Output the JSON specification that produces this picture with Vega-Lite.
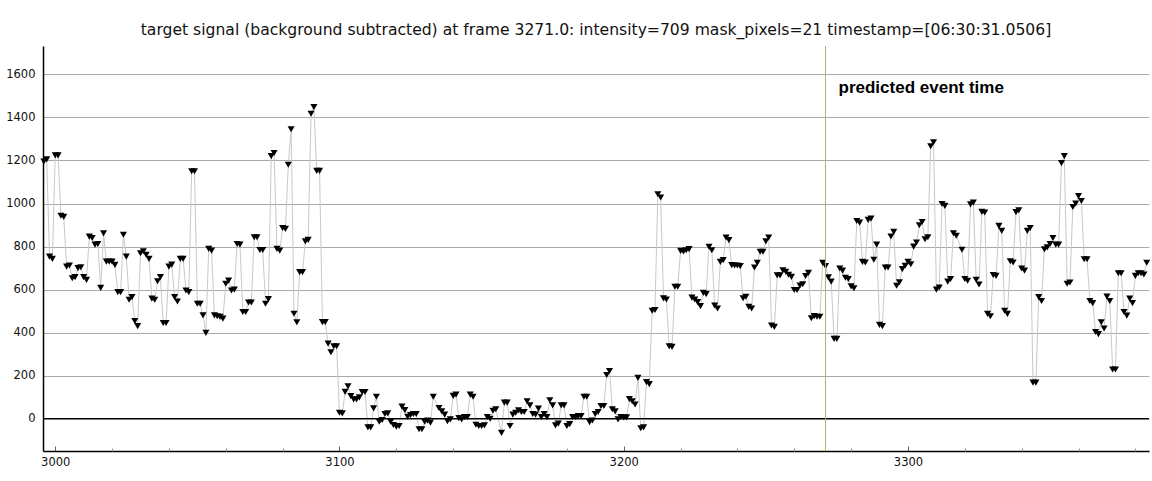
{
  "$schema": "https://vega.github.io/schema/vega-lite/v6.json",
  "width": 1106,
  "height": 405,
  "autosize": "none",
  "padding": {"left": 43, "top": 46, "right": 3, "bottom": 30},
  "background": "white",
  "title": {
    "text": "target signal (background subtracted) at frame 3271.0: intensity=709 mask_pixels=21 timestamp=[06:30:31.0506]",
    "font": "DejaVu Sans",
    "fontSize": 15.6,
    "fontWeight": "normal",
    "color": "#111",
    "anchor": "middle",
    "offset": 7
  },
  "data": {
    "values": [
      {"frame": 2996, "intensity": 1195}, {"frame": 2997, "intensity": 1205}, {"frame": 2998, "intensity": 753}, {"frame": 2999, "intensity": 743},
      {"frame": 3000, "intensity": 1224}, {"frame": 3001, "intensity": 1224}, {"frame": 3002, "intensity": 943}, {"frame": 3003, "intensity": 938},
      {"frame": 3004, "intensity": 707}, {"frame": 3005, "intensity": 712}, {"frame": 3006, "intensity": 653}, {"frame": 3007, "intensity": 658},
      {"frame": 3008, "intensity": 700}, {"frame": 3009, "intensity": 704}, {"frame": 3010, "intensity": 658}, {"frame": 3011, "intensity": 645},
      {"frame": 3012, "intensity": 846}, {"frame": 3013, "intensity": 840}, {"frame": 3014, "intensity": 809}, {"frame": 3015, "intensity": 812},
      {"frame": 3016, "intensity": 608}, {"frame": 3017, "intensity": 861}, {"frame": 3018, "intensity": 730}, {"frame": 3019, "intensity": 730},
      {"frame": 3020, "intensity": 730}, {"frame": 3021, "intensity": 715}, {"frame": 3022, "intensity": 588}, {"frame": 3023, "intensity": 588},
      {"frame": 3024, "intensity": 855}, {"frame": 3025, "intensity": 753}, {"frame": 3026, "intensity": 553}, {"frame": 3027, "intensity": 565},
      {"frame": 3028, "intensity": 454}, {"frame": 3029, "intensity": 430}, {"frame": 3030, "intensity": 769}, {"frame": 3031, "intensity": 778},
      {"frame": 3032, "intensity": 762}, {"frame": 3033, "intensity": 743}, {"frame": 3034, "intensity": 558}, {"frame": 3035, "intensity": 553},
      {"frame": 3036, "intensity": 639}, {"frame": 3037, "intensity": 658}, {"frame": 3038, "intensity": 445}, {"frame": 3039, "intensity": 445},
      {"frame": 3040, "intensity": 707}, {"frame": 3041, "intensity": 716}, {"frame": 3042, "intensity": 565}, {"frame": 3043, "intensity": 545},
      {"frame": 3044, "intensity": 743}, {"frame": 3045, "intensity": 743}, {"frame": 3046, "intensity": 596}, {"frame": 3047, "intensity": 588},
      {"frame": 3048, "intensity": 1150}, {"frame": 3049, "intensity": 1150}, {"frame": 3050, "intensity": 534}, {"frame": 3051, "intensity": 534},
      {"frame": 3052, "intensity": 480}, {"frame": 3053, "intensity": 399}, {"frame": 3054, "intensity": 789}, {"frame": 3055, "intensity": 781},
      {"frame": 3056, "intensity": 480}, {"frame": 3057, "intensity": 476}, {"frame": 3058, "intensity": 473}, {"frame": 3059, "intensity": 465},
      {"frame": 3060, "intensity": 627}, {"frame": 3061, "intensity": 642}, {"frame": 3062, "intensity": 596}, {"frame": 3063, "intensity": 600},
      {"frame": 3064, "intensity": 812}, {"frame": 3065, "intensity": 809}, {"frame": 3066, "intensity": 496}, {"frame": 3067, "intensity": 496},
      {"frame": 3068, "intensity": 540}, {"frame": 3069, "intensity": 540}, {"frame": 3070, "intensity": 843}, {"frame": 3071, "intensity": 843},
      {"frame": 3072, "intensity": 784}, {"frame": 3073, "intensity": 784}, {"frame": 3074, "intensity": 534}, {"frame": 3075, "intensity": 556},
      {"frame": 3076, "intensity": 1220}, {"frame": 3077, "intensity": 1235}, {"frame": 3078, "intensity": 789}, {"frame": 3079, "intensity": 781},
      {"frame": 3080, "intensity": 886}, {"frame": 3081, "intensity": 882}, {"frame": 3082, "intensity": 1180}, {"frame": 3083, "intensity": 1345},
      {"frame": 3084, "intensity": 488}, {"frame": 3085, "intensity": 448}, {"frame": 3086, "intensity": 681}, {"frame": 3087, "intensity": 681},
      {"frame": 3088, "intensity": 824}, {"frame": 3089, "intensity": 831}, {"frame": 3090, "intensity": 1417}, {"frame": 3091, "intensity": 1448},
      {"frame": 3092, "intensity": 1152}, {"frame": 3093, "intensity": 1152}, {"frame": 3094, "intensity": 449}, {"frame": 3095, "intensity": 449},
      {"frame": 3096, "intensity": 349}, {"frame": 3097, "intensity": 309}, {"frame": 3098, "intensity": 337}, {"frame": 3099, "intensity": 337},
      {"frame": 3100, "intensity": 28}, {"frame": 3101, "intensity": 25}, {"frame": 3102, "intensity": 125}, {"frame": 3103, "intensity": 151},
      {"frame": 3104, "intensity": 105}, {"frame": 3105, "intensity": 90}, {"frame": 3106, "intensity": 90}, {"frame": 3107, "intensity": 99},
      {"frame": 3108, "intensity": 124}, {"frame": 3109, "intensity": 124}, {"frame": 3110, "intensity": -40}, {"frame": 3111, "intensity": -40},
      {"frame": 3112, "intensity": 48}, {"frame": 3113, "intensity": 102}, {"frame": 3114, "intensity": -14}, {"frame": 3115, "intensity": -6},
      {"frame": 3116, "intensity": 22}, {"frame": 3117, "intensity": 25}, {"frame": 3118, "intensity": -14}, {"frame": 3119, "intensity": -29},
      {"frame": 3120, "intensity": -37}, {"frame": 3121, "intensity": -34}, {"frame": 3122, "intensity": 56}, {"frame": 3123, "intensity": 40},
      {"frame": 3124, "intensity": 9}, {"frame": 3125, "intensity": 17}, {"frame": 3126, "intensity": 22}, {"frame": 3127, "intensity": 22},
      {"frame": 3128, "intensity": -49}, {"frame": 3129, "intensity": -49}, {"frame": 3130, "intensity": -14}, {"frame": 3131, "intensity": -9},
      {"frame": 3132, "intensity": -18}, {"frame": 3133, "intensity": 102}, {"frame": 3135, "intensity": 50}, {"frame": 3136, "intensity": 34},
      {"frame": 3137, "intensity": 19}, {"frame": 3138, "intensity": -12}, {"frame": 3139, "intensity": -3}, {"frame": 3140, "intensity": 106},
      {"frame": 3141, "intensity": 112}, {"frame": 3142, "intensity": 3}, {"frame": 3143, "intensity": -3}, {"frame": 3144, "intensity": 8},
      {"frame": 3145, "intensity": 8}, {"frame": 3146, "intensity": 112}, {"frame": 3147, "intensity": 102}, {"frame": 3148, "intensity": -28},
      {"frame": 3149, "intensity": -34}, {"frame": 3150, "intensity": -34}, {"frame": 3151, "intensity": -31}, {"frame": 3152, "intensity": 8},
      {"frame": 3153, "intensity": 0}, {"frame": 3154, "intensity": 37}, {"frame": 3155, "intensity": 44}, {"frame": 3157, "intensity": -66},
      {"frame": 3158, "intensity": 75}, {"frame": 3159, "intensity": 75}, {"frame": 3160, "intensity": -34}, {"frame": 3161, "intensity": 19},
      {"frame": 3162, "intensity": 28}, {"frame": 3163, "intensity": 39}, {"frame": 3164, "intensity": 31}, {"frame": 3165, "intensity": 31},
      {"frame": 3166, "intensity": 81}, {"frame": 3167, "intensity": 62}, {"frame": 3168, "intensity": 22}, {"frame": 3169, "intensity": 19},
      {"frame": 3170, "intensity": 47}, {"frame": 3171, "intensity": 8}, {"frame": 3172, "intensity": 22}, {"frame": 3173, "intensity": 8},
      {"frame": 3174, "intensity": 86}, {"frame": 3175, "intensity": 62}, {"frame": 3176, "intensity": -31}, {"frame": 3177, "intensity": -23},
      {"frame": 3178, "intensity": 62}, {"frame": 3179, "intensity": 62}, {"frame": 3180, "intensity": -34}, {"frame": 3181, "intensity": -25},
      {"frame": 3182, "intensity": 8}, {"frame": 3183, "intensity": 8}, {"frame": 3184, "intensity": 12}, {"frame": 3185, "intensity": 12},
      {"frame": 3186, "intensity": 102}, {"frame": 3187, "intensity": 102}, {"frame": 3188, "intensity": -16}, {"frame": 3189, "intensity": -8},
      {"frame": 3190, "intensity": 22}, {"frame": 3191, "intensity": 31}, {"frame": 3192, "intensity": 59}, {"frame": 3193, "intensity": 59},
      {"frame": 3194, "intensity": 203}, {"frame": 3195, "intensity": 222}, {"frame": 3196, "intensity": 44}, {"frame": 3197, "intensity": 34},
      {"frame": 3198, "intensity": -3}, {"frame": 3199, "intensity": 8}, {"frame": 3200, "intensity": 6}, {"frame": 3201, "intensity": 6},
      {"frame": 3202, "intensity": 91}, {"frame": 3203, "intensity": 81}, {"frame": 3204, "intensity": 66}, {"frame": 3205, "intensity": 190},
      {"frame": 3206, "intensity": -44}, {"frame": 3207, "intensity": -40}, {"frame": 3208, "intensity": 170}, {"frame": 3209, "intensity": 161},
      {"frame": 3210, "intensity": 502}, {"frame": 3211, "intensity": 505}, {"frame": 3212, "intensity": 1043}, {"frame": 3213, "intensity": 1028},
      {"frame": 3214, "intensity": 559}, {"frame": 3215, "intensity": 554}, {"frame": 3216, "intensity": 337}, {"frame": 3217, "intensity": 334},
      {"frame": 3218, "intensity": 613}, {"frame": 3219, "intensity": 613}, {"frame": 3220, "intensity": 780}, {"frame": 3221, "intensity": 777},
      {"frame": 3222, "intensity": 783}, {"frame": 3223, "intensity": 788}, {"frame": 3224, "intensity": 563}, {"frame": 3225, "intensity": 554},
      {"frame": 3226, "intensity": 542}, {"frame": 3227, "intensity": 523}, {"frame": 3228, "intensity": 585}, {"frame": 3229, "intensity": 579},
      {"frame": 3230, "intensity": 799}, {"frame": 3231, "intensity": 783}, {"frame": 3232, "intensity": 526}, {"frame": 3233, "intensity": 512},
      {"frame": 3234, "intensity": 729}, {"frame": 3235, "intensity": 737}, {"frame": 3236, "intensity": 842}, {"frame": 3237, "intensity": 830},
      {"frame": 3238, "intensity": 714}, {"frame": 3239, "intensity": 712}, {"frame": 3240, "intensity": 712}, {"frame": 3241, "intensity": 709},
      {"frame": 3242, "intensity": 560}, {"frame": 3243, "intensity": 567}, {"frame": 3244, "intensity": 520}, {"frame": 3245, "intensity": 512},
      {"frame": 3246, "intensity": 703}, {"frame": 3247, "intensity": 724}, {"frame": 3248, "intensity": 776}, {"frame": 3249, "intensity": 776},
      {"frame": 3250, "intensity": 824}, {"frame": 3251, "intensity": 842}, {"frame": 3252, "intensity": 433}, {"frame": 3253, "intensity": 427},
      {"frame": 3254, "intensity": 666}, {"frame": 3255, "intensity": 666}, {"frame": 3256, "intensity": 690}, {"frame": 3257, "intensity": 683},
      {"frame": 3258, "intensity": 669}, {"frame": 3259, "intensity": 659}, {"frame": 3260, "intensity": 598}, {"frame": 3261, "intensity": 598},
      {"frame": 3262, "intensity": 619}, {"frame": 3263, "intensity": 625}, {"frame": 3264, "intensity": 663}, {"frame": 3265, "intensity": 678},
      {"frame": 3266, "intensity": 467}, {"frame": 3267, "intensity": 477}, {"frame": 3268, "intensity": 474}, {"frame": 3269, "intensity": 474},
      {"frame": 3270, "intensity": 724}, {"frame": 3271, "intensity": 709}, {"frame": 3272, "intensity": 657}, {"frame": 3273, "intensity": 637},
      {"frame": 3274, "intensity": 371}, {"frame": 3275, "intensity": 371}, {"frame": 3276, "intensity": 698}, {"frame": 3277, "intensity": 688},
      {"frame": 3278, "intensity": 655}, {"frame": 3279, "intensity": 649}, {"frame": 3280, "intensity": 615}, {"frame": 3281, "intensity": 606},
      {"frame": 3282, "intensity": 919}, {"frame": 3283, "intensity": 911}, {"frame": 3284, "intensity": 729}, {"frame": 3285, "intensity": 726},
      {"frame": 3286, "intensity": 924}, {"frame": 3287, "intensity": 930}, {"frame": 3288, "intensity": 739}, {"frame": 3289, "intensity": 809},
      {"frame": 3290, "intensity": 436}, {"frame": 3291, "intensity": 430}, {"frame": 3292, "intensity": 703}, {"frame": 3293, "intensity": 703},
      {"frame": 3294, "intensity": 847}, {"frame": 3295, "intensity": 868}, {"frame": 3296, "intensity": 618}, {"frame": 3297, "intensity": 634},
      {"frame": 3298, "intensity": 695}, {"frame": 3299, "intensity": 711}, {"frame": 3300, "intensity": 729}, {"frame": 3301, "intensity": 718},
      {"frame": 3302, "intensity": 800}, {"frame": 3303, "intensity": 819}, {"frame": 3304, "intensity": 899}, {"frame": 3305, "intensity": 914},
      {"frame": 3306, "intensity": 834}, {"frame": 3307, "intensity": 843}, {"frame": 3308, "intensity": 1266}, {"frame": 3309, "intensity": 1285},
      {"frame": 3310, "intensity": 600}, {"frame": 3311, "intensity": 610}, {"frame": 3312, "intensity": 998}, {"frame": 3313, "intensity": 989},
      {"frame": 3314, "intensity": 637}, {"frame": 3315, "intensity": 649}, {"frame": 3316, "intensity": 862}, {"frame": 3317, "intensity": 850},
      {"frame": 3319, "intensity": 785}, {"frame": 3320, "intensity": 649}, {"frame": 3321, "intensity": 641}, {"frame": 3322, "intensity": 996},
      {"frame": 3323, "intensity": 1004}, {"frame": 3324, "intensity": 646}, {"frame": 3325, "intensity": 624}, {"frame": 3326, "intensity": 961},
      {"frame": 3327, "intensity": 958}, {"frame": 3328, "intensity": 487}, {"frame": 3329, "intensity": 476}, {"frame": 3330, "intensity": 668},
      {"frame": 3331, "intensity": 664}, {"frame": 3332, "intensity": 896}, {"frame": 3333, "intensity": 873}, {"frame": 3334, "intensity": 502},
      {"frame": 3335, "intensity": 487}, {"frame": 3336, "intensity": 732}, {"frame": 3337, "intensity": 726}, {"frame": 3338, "intensity": 960},
      {"frame": 3339, "intensity": 969}, {"frame": 3340, "intensity": 698}, {"frame": 3341, "intensity": 688}, {"frame": 3342, "intensity": 873},
      {"frame": 3343, "intensity": 886}, {"frame": 3344, "intensity": 168}, {"frame": 3345, "intensity": 168}, {"frame": 3346, "intensity": 565},
      {"frame": 3347, "intensity": 547}, {"frame": 3348, "intensity": 787}, {"frame": 3349, "intensity": 796}, {"frame": 3350, "intensity": 812},
      {"frame": 3351, "intensity": 840}, {"frame": 3352, "intensity": 809}, {"frame": 3353, "intensity": 809}, {"frame": 3354, "intensity": 1188},
      {"frame": 3355, "intensity": 1220}, {"frame": 3356, "intensity": 627}, {"frame": 3357, "intensity": 633}, {"frame": 3358, "intensity": 984},
      {"frame": 3359, "intensity": 1000}, {"frame": 3360, "intensity": 1035}, {"frame": 3361, "intensity": 1012}, {"frame": 3362, "intensity": 741},
      {"frame": 3363, "intensity": 741}, {"frame": 3364, "intensity": 547}, {"frame": 3365, "intensity": 537}, {"frame": 3366, "intensity": 403},
      {"frame": 3367, "intensity": 393}, {"frame": 3368, "intensity": 448}, {"frame": 3369, "intensity": 419}, {"frame": 3370, "intensity": 568},
      {"frame": 3371, "intensity": 547}, {"frame": 3372, "intensity": 229}, {"frame": 3373, "intensity": 229}, {"frame": 3374, "intensity": 676},
      {"frame": 3375, "intensity": 676}, {"frame": 3376, "intensity": 496}, {"frame": 3377, "intensity": 479}, {"frame": 3378, "intensity": 558},
      {"frame": 3379, "intensity": 537}, {"frame": 3380, "intensity": 664}, {"frame": 3381, "intensity": 676}, {"frame": 3382, "intensity": 676},
      {"frame": 3383, "intensity": 670}, {"frame": 3384, "intensity": 725}
    ]
  },
  "layer": [
    {
      "mark": {"type": "line", "color": "#c9c9c9", "strokeWidth": 1},
      "encoding": {
        "x": {
          "field": "frame",
          "type": "quantitative",
          "scale": {"domain": [2995.7, 3384.8], "nice": false, "zero": false},
          "axis": {
            "title": null,
            "orient": "bottom",
            "values": [3000, 3100, 3200, 3300],
            "format": "d",
            "grid": false,
            "domainColor": "black",
            "domainWidth": 1.5,
            "tickColor": "#666",
            "tickSize": -5,
            "labelPadding": 10
          }
        },
        "y": {
          "field": "intensity",
          "type": "quantitative",
          "scale": {"domain": [-150, 1732], "nice": false, "zero": false},
          "axis": {
            "title": null,
            "values": [0, 200, 400, 600, 800, 1000, 1200, 1400, 1600],
            "format": "d",
            "grid": true,
            "gridColor": "#a9a9a9",
            "gridWidth": 1,
            "ticks": false,
            "domainColor": "black",
            "domainWidth": 1.5,
            "labelPadding": 8
          }
        }
      }
    },
    {
      "mark": {"type": "point", "shape": "triangle-down", "filled": true, "color": "black", "opacity": 1, "size": 50},
      "encoding": {
        "x": {
          "field": "frame",
          "type": "quantitative",
          "axis": {
            "title": null,
            "orient": "bottom",
            "values": [3020, 3040, 3060, 3080, 3120, 3140, 3160, 3180, 3220, 3240, 3260, 3280, 3320, 3340, 3360, 3380],
            "labels": false,
            "domain": false,
            "grid": false,
            "tickColor": "#999",
            "tickSize": -3
          }
        },
        "y": {"field": "intensity", "type": "quantitative"}
      }
    },
    {
      "data": {"values": [{}]},
      "mark": {"type": "rule", "color": "black", "strokeWidth": 1.3},
      "encoding": {"y": {"datum": 0}}
    },
    {
      "data": {"values": [{}]},
      "mark": {"type": "rule", "color": "#b4b45a", "strokeWidth": 1},
      "encoding": {"x": {"datum": 3271, "axis": null}}
    },
    {
      "data": {"values": [{}]},
      "mark": {
        "type": "text",
        "text": "predicted event time",
        "font": "Liberation Sans",
        "fontWeight": "bold",
        "fontSize": 17,
        "color": "black",
        "align": "left",
        "baseline": "middle",
        "dx": 13
      },
      "encoding": {"x": {"datum": 3271, "axis": null}, "y": {"datum": 1535}}
    }
  ],
  "resolve": {"axis": {"x": "independent"}},
  "config": {
    "view": {"stroke": null},
    "axis": {"labelFont": "DejaVu Sans", "labelFontSize": 11.5, "labelColor": "#111"}
  }
}
